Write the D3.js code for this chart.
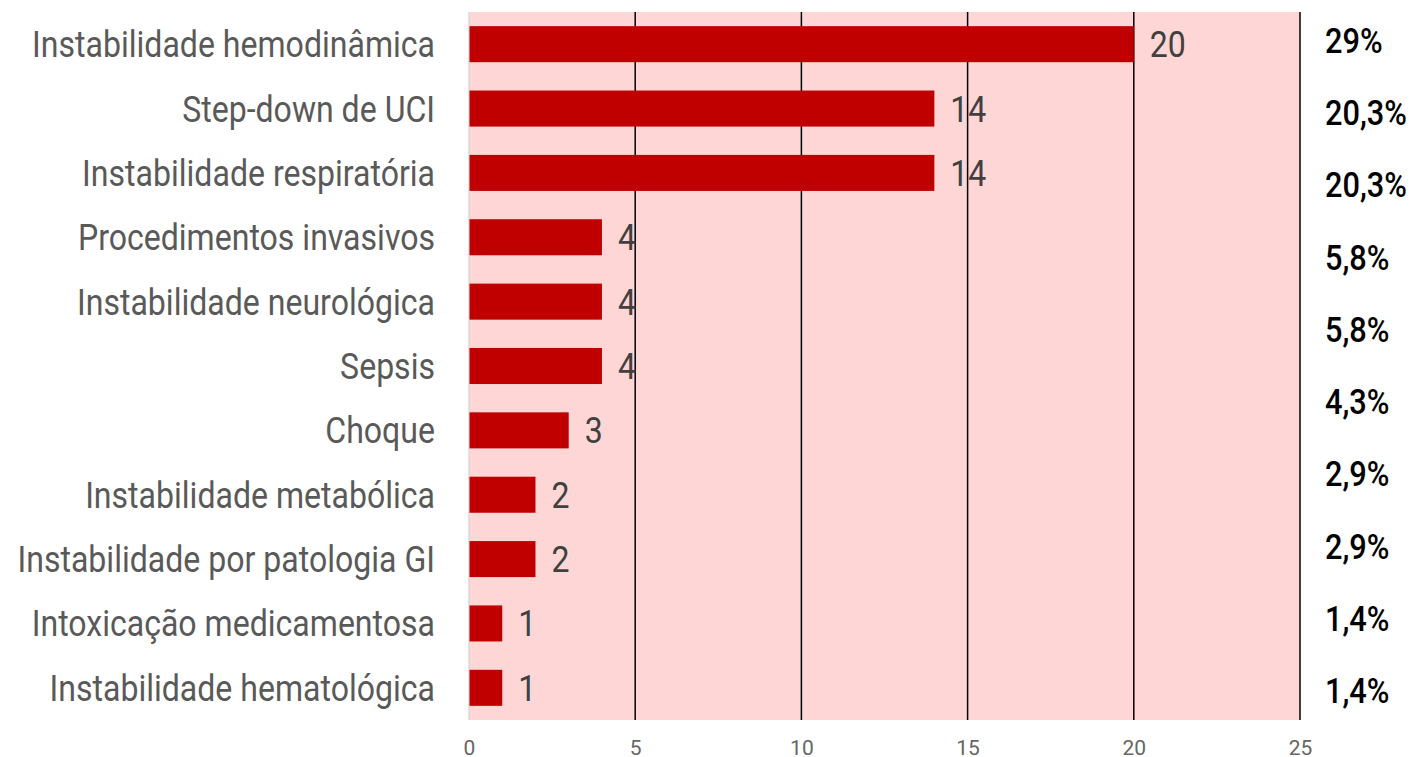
<!DOCTYPE html>
<html>
<head>
<meta charset="utf-8">
<script src="https://cdn.jsdelivr.net/npm/d3@7"></script>
<style>
  html, body { margin: 0; padding: 0; background: #fff; }
  svg { display: block; }
</style>
</head>
<body>
<svg id="chart" width="1414" height="757"></svg>
<script>
const categories = [
  "Instabilidade hemodinâmica",
  "Step-down de UCI",
  "Instabilidade respiratória",
  "Procedimentos invasivos",
  "Instabilidade neurológica",
  "Sepsis",
  "Choque",
  "Instabilidade metabólica",
  "Instabilidade por patologia GI",
  "Intoxicação medicamentosa",
  "Instabilidade hematológica"
];
const values = [20, 14, 14, 4, 4, 4, 3, 2, 2, 1, 1];
const percentLabels = ["29%", "20,3%", "20,3%", "5,8%", "5,8%", "4,3%", "2,9%", "2,9%", "1,4%", "1,4%"];
const xTicks = [0, 5, 10, 15, 20, 25];

const FONT = "Roboto, 'Noto Sans', sans-serif";
const svg = d3.select("#chart");
const plotLeft = 469, plotRight = 1300, plotTop = 12, plotBottom = 720;

const x = d3.scaleLinear().domain([0, 25]).range([plotLeft, plotRight]);
const y = d3.scaleBand().domain(categories).range([plotTop, plotBottom]).paddingInner(0.44).paddingOuter(0.22);

// measure horizontal condensing factor for the DIN-like condensed look
function measure(str, size, weight) {
  const t = svg.append("text").style("font-family", FONT).style("font-size", size + "px")
    .style("font-weight", weight).text(str);
  const w = t.node().getComputedTextLength();
  t.remove();
  return w;
}
const kLabel = 403 / measure(categories[0], 36, 400);
const kPct = 82 / measure(percentLabels[1], 36, 500);

// plot background
svg.append("rect")
  .attr("x", x(0)).attr("y", plotTop)
  .attr("width", x(25) - x(0)).attr("height", plotBottom - plotTop)
  .attr("fill", "#ffd6d6");

// zero line
svg.append("line")
  .attr("x1", x(0)).attr("x2", x(0)).attr("y1", plotTop).attr("y2", plotBottom)
  .attr("stroke", "#d9d9d9").attr("stroke-width", 1.5);

// gridlines
svg.append("g").selectAll("line")
  .data(xTicks.filter(d => d > 0))
  .join("line")
  .attr("x1", d => x(d)).attr("x2", d => x(d))
  .attr("y1", plotTop).attr("y2", plotBottom)
  .attr("stroke", "#000").attr("stroke-width", 1.5);

// bars
svg.append("g").selectAll("rect")
  .data(values)
  .join("rect")
  .attr("x", x(0) + 0.5)
  .attr("y", (d, i) => y(categories[i]))
  .attr("width", d => x(d) - x(0) - 0.5)
  .attr("height", y.bandwidth())
  .attr("fill", "#c00000");

// value labels
svg.append("g").selectAll("text")
  .data(values)
  .join("text")
  .attr("transform", (d, i) => `translate(${x(d) + 16},${y(categories[i]) + y.bandwidth() / 2}) scale(${kLabel},1)`)
  .attr("dy", "0.36em")
  .style("font-family", FONT)
  .style("font-size", "36px")
  .attr("fill", "#404040")
  .text(d => d);

// category labels (y axis)
const yAxis = d3.axisLeft(y).tickSize(0).tickPadding(0);
const gy = svg.append("g").attr("transform", `translate(${plotLeft - 34},0)`).call(yAxis);
gy.select(".domain").remove();
gy.selectAll("text")
  .attr("x", 0)
  .attr("transform", `scale(${kLabel},1)`)
  .style("font-family", FONT)
  .style("font-size", "36px")
  .attr("fill", "#595959")
  .attr("dy", "0.36em");

// x axis
const xAxis = d3.axisBottom(x).tickValues(xTicks).tickSize(0).tickPadding(0);
const gx = svg.append("g").attr("transform", `translate(0,${plotBottom})`).call(xAxis);
gx.attr("font-size", 21).attr("font-family", FONT);
gx.select(".domain").remove();
gx.selectAll("text")
  .attr("y", 35)
  .attr("dy", 0)
  .style("font-family", FONT)
  .style("font-size", "21px")
  .attr("fill", "#666666");

// percentage column
const py = d3.scalePoint().domain(d3.range(percentLabels.length)).range([40, 690]);
svg.append("g").selectAll("text")
  .data(percentLabels)
  .join("text")
  .attr("transform", (d, i) => `translate(1325,${py(i)}) scale(${kPct},1)`)
  .attr("dy", "0.36em")
  .style("font-family", FONT)
  .style("font-size", "36px")
  .style("font-weight", 500)
  .attr("fill", "#000")
  .text(d => d);
</script>
</body>
</html>
